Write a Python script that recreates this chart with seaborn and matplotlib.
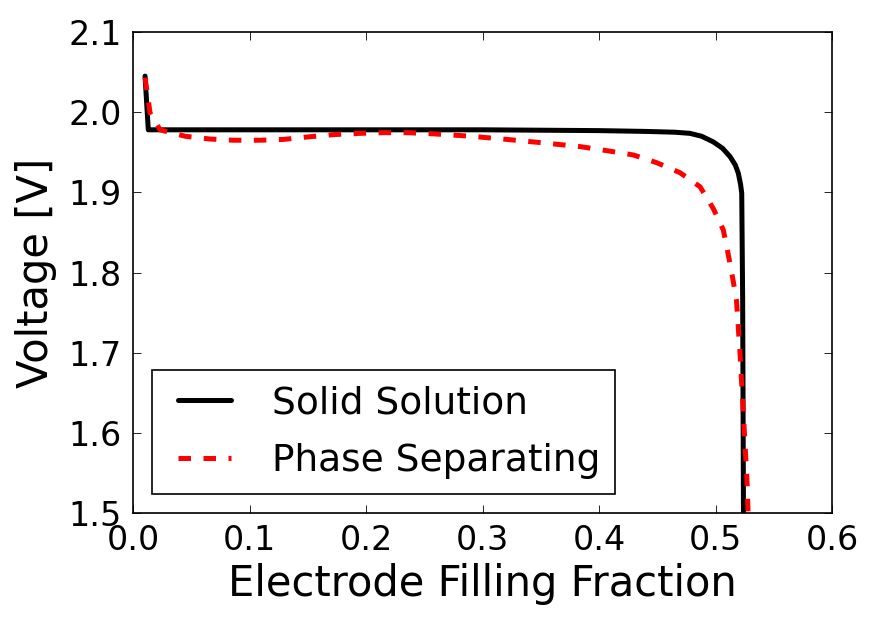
import numpy as np
import pandas as pd
import seaborn as sns
import matplotlib
matplotlib.use("Agg")
import matplotlib.pyplot as plt
from matplotlib.ticker import FormatStrFormatter

# Values
solid_x = [0.0103, 0.0131, 0.05, 0.10, 0.20, 0.30, 0.40, 0.44, 0.465, 0.478,
           0.488, 0.498, 0.506, 0.5125, 0.5170, 0.5196, 0.5215, 0.5225, 0.5233, 0.524]
solid_v = [2.045, 1.978, 1.978, 1.978, 1.978, 1.978, 1.977, 1.976, 1.975, 1.9736,
           1.970, 1.963, 1.955, 1.9445, 1.934, 1.9237, 1.910, 1.899, 1.766, 1.500]

phase_x = [0.0103, 0.0146, 0.0232, 0.0446, 0.066, 0.086, 0.109, 0.129, 0.152, 0.172,
           0.195, 0.2146, 0.236, 0.2575, 0.29, 0.321, 0.35, 0.384, 0.4066, 0.4295,
           0.4495, 0.4695, 0.4867, 0.498, 0.5067, 0.511, 0.515, 0.518, 0.521, 0.5236,
           0.527, 0.528]
phase_v = [2.043, 1.999, 1.978, 1.970, 1.9665, 1.965, 1.965, 1.966, 1.9694, 1.972,
           1.9736, 1.9744, 1.9744, 1.973, 1.970, 1.966, 1.962, 1.957, 1.952, 1.9466,
           1.937, 1.9245, 1.907, 1.880, 1.853, 1.822, 1.791, 1.765, 1.700, 1.632,
           1.541, 1.500]

labels = ["Solid Solution", "Phase Separating"]

df = pd.concat([
    pd.DataFrame({"x": solid_x, "v": solid_v, "model": labels[0]}),
    pd.DataFrame({"x": phase_x, "v": phase_v, "model": labels[1]}),
])

sns.set_style("white")
plt.rcParams["font.family"] = ["DejaVu Sans"]
plt.rcParams.update({"text.color": "black", "axes.labelcolor": "black",
                     "xtick.color": "black", "ytick.color": "black"})

fig = plt.figure(figsize=(8.77, 6.24), dpi=100)
ax = fig.add_axes([0.1517, 0.1779, 0.797, 0.7708])

sns.lineplot(data=df, x="x", y="v", hue="model", style="model",
             palette={labels[0]: "black", labels[1]: "red"},
             dashes={labels[0]: "", labels[1]: (2.5, 2.5)},
             sort=False, estimator=None, linewidth=3.6, ax=ax)

ax.set_xlim(0.0, 0.6)
ax.set_ylim(1.5, 2.1)
ax.set_xticks(np.arange(0.0, 0.61, 0.1))
ax.set_yticks(np.arange(1.5, 2.11, 0.1))
ax.xaxis.set_major_formatter(FormatStrFormatter("%.1f"))
ax.yaxis.set_major_formatter(FormatStrFormatter("%.1f"))
ax.tick_params(direction="in", length=6, width=0.6, labelsize=24, pad=8,
               top=True, right=True, bottom=True, left=True)
for s in ax.spines.values():
    s.set_color("black")
    s.set_linewidth(1.2)

ax.set_xlabel("Electrode Filling Fraction", fontsize=30, labelpad=4)
ax.set_ylabel("Voltage [V]", fontsize=30, labelpad=8)

# old-style legend: two-point handles with padding, wide gap before the text
leg = ax.legend(loc="lower left", fontsize=27, frameon=True, fancybox=False,
                numpoints=2, handlelength=2.0, handletextpad=0.8, borderpad=0.4,
                borderaxespad=0.5, labelspacing=0.59)
leg.get_frame().set_edgecolor("black")
leg.get_frame().set_linewidth(1.2)
leg.get_frame().set_alpha(1)

fig.savefig("out.png", dpi=100)
